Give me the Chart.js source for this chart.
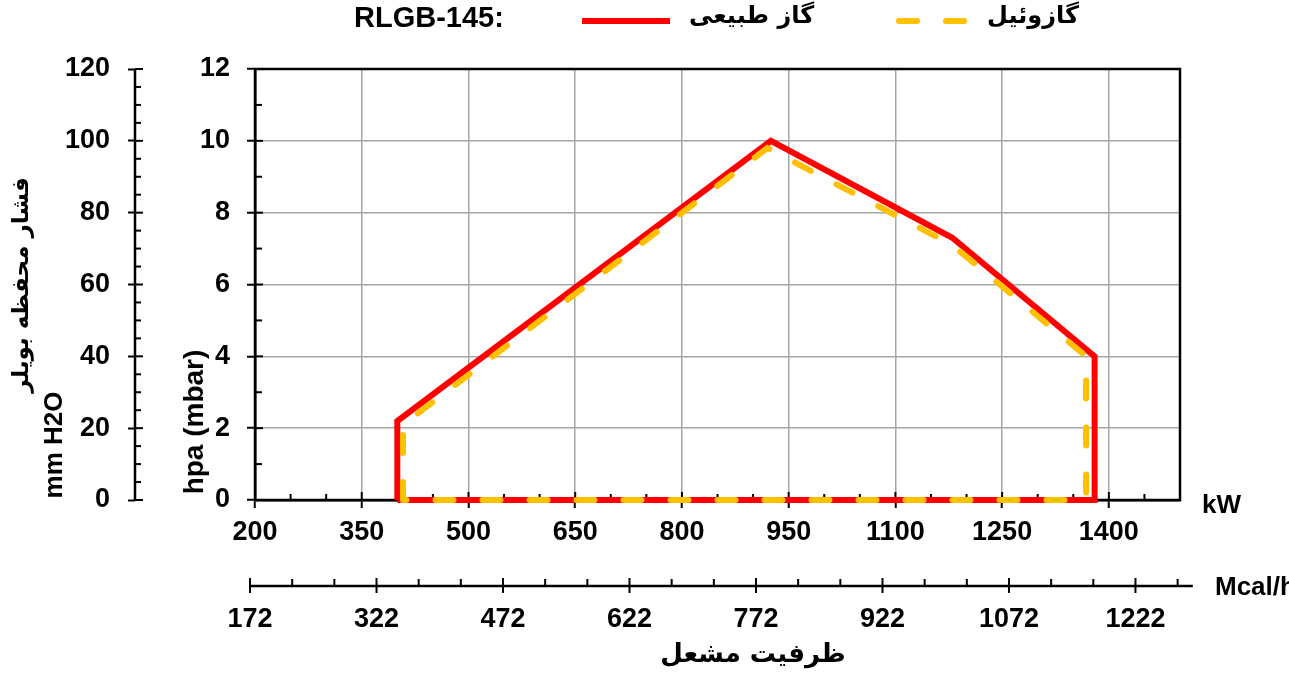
<!DOCTYPE html>
<html lang="fa">
<head>
  <meta charset="UTF-8" />
  <title>RLGB-145</title>
  <script src="https://cdn.jsdelivr.net/npm/chart.js"></script>
  <style>
    html, body { margin: 0; padding: 0; background: #fff; }
    #wrap { width: 1289px; height: 674px; }
  </style>
</head>
<body>
  <div id="wrap"><canvas id="chart" width="1289" height="674"></canvas></div>

  <script>
    // منحنی کارکرد مشعل (kW , hpa)
    const gasKW  = [400, 400, 925, 1180, 1380, 1380, 400];
    const gasHpa = [0, 2.2, 10, 7.3, 4, 0, 0];
    const oilKW  = [408, 408, 920, 1180, 1368, 1368, 408];
    const oilHpa = [0, 2.1, 9.8, 7.1, 4, 0, 0];

    // برچسب‌های محورها
    const kwTicks   = [200, 350, 500, 650, 800, 950, 1100, 1250, 1400];
    const mcalTicks = [172, 322, 472, 622, 772, 922, 1072, 1222];
    const hpaTicks  = [0, 2, 4, 6, 8, 10, 12];
    const mmTicks   = [0, 20, 40, 60, 80, 100, 120];

    const FA = '"DejaVu Sans", sans-serif';
    const EN = '"Liberation Sans", Arial, sans-serif';

    Chart.defaults.font.family = EN;
    Chart.defaults.font.size = 27;
    Chart.defaults.font.weight = 'bold';
    Chart.defaults.color = '#000';

    const toPoints = (xs, ys) => xs.map((x, i) => ({ x: x, y: ys[i] }));
    const setTicks = list => scale => { scale.ticks = list.map(v => ({ value: v })); };
    const plain = v => String(v);

    // کادر، تیک‌های فرعی و محور Mcal/h
    const axesExtra = {
      id: 'axesExtra',
      beforeDatasetsDraw(chart) {
        const { ctx, chartArea: a, scales } = chart;
        const line = (x1, y1, x2, y2) => {
          ctx.beginPath(); ctx.moveTo(x1, y1); ctx.lineTo(x2, y2); ctx.stroke();
        };
        ctx.save();
        ctx.strokeStyle = '#000';
        ctx.lineWidth = 2.5;
        ctx.strokeRect(a.left, a.top, a.right - a.left, a.bottom - a.top);

        ctx.lineWidth = 2;
        // kW
        for (let v = 250; v < 1500; v += 50) {
          const px = scales.x.getPixelForValue(v);
          line(px, a.bottom, px, a.bottom - (kwTicks.includes(v) ? 8 : 6));
        }
        // hpa
        for (let v = 1; v < 12; v++) {
          const py = scales.y.getPixelForValue(v);
          line(a.left, py, a.left + (hpaTicks.includes(v) ? 8 : 7), py);
        }
        // mm H2O
        const mm = scales.yMm;
        ctx.lineWidth = 2.5;
        line(mm.right, mm.getPixelForValue(0), mm.right, mm.getPixelForValue(120));
        ctx.lineWidth = 2;
        for (let v = 0; v <= 120; v += 5) {
          const py = mm.getPixelForValue(v);
          line(mm.right, py, mm.right + (mmTicks.includes(v) ? 8 : 6), py);
        }
        // Mcal/h
        const mc = scales.xMcal;
        ctx.lineWidth = 2.5;
        line(mc.getPixelForValue(172), mc.top, mc.getPixelForValue(1290), mc.top);
        ctx.lineWidth = 2;
        for (let v = 172; v < 1290; v += 50) {
          const px = mc.getPixelForValue(v);
          const major = mcalTicks.includes(v);
          line(px, mc.top + (major ? 7 : 0), px, mc.top - (major ? 8 : 7));
        }
        ctx.restore();
      },
      afterDraw(chart) {
        const { ctx, chartArea: a, data } = chart;
        ctx.save();
        ctx.fillStyle = '#000';
        ctx.textBaseline = 'middle';

        // عنوان محورها
        ctx.font = 'bold 26px ' + EN;
        ctx.textAlign = 'left';
        ctx.fillText('kW', a.right + 22, a.bottom + 6);
        ctx.fillText('Mcal/h', a.right + 35, a.bottom + 88);

        ctx.font = 'bold 26px ' + FA;
        ctx.textAlign = 'center';
        ctx.fillText('ظرفیت مشعل', 753, 655);

        const vText = (text, x, y, font) => {
          ctx.save();
          ctx.translate(x, y);
          ctx.rotate(-Math.PI / 2);
          ctx.font = font;
          ctx.textAlign = 'center';
          ctx.fillText(text, 0, 0);
          ctx.restore();
        };
        vText('hpa (mbar)', a.left - 60, a.bottom - 78, 'bold 28px ' + EN);
        vText('mm H2O', 55, a.bottom - 55, 'bold 26px ' + EN);
        vText('فشار محفظه بویلر', 22, 285, 'bold 23px ' + FA);

        // راهنما
        ctx.textAlign = 'left';
        ctx.font = 'bold 29px ' + EN;
        ctx.fillText('RLGB-145:', 354, 19);
        const items = [
          { ds: data.datasets[0], x1: 582, x2: 670, tx: 689 },
          { ds: data.datasets[1], x1: 899, x2: 967, tx: 987 }
        ];
        items.forEach(it => {
          ctx.save();
          ctx.strokeStyle = it.ds.borderColor;
          ctx.lineWidth = it.ds.borderWidth;
          ctx.lineCap = it.ds.borderCapStyle || 'butt';
          ctx.setLineDash(it.ds.borderDash || []);
          ctx.beginPath();
          ctx.moveTo(it.x1, 21);
          ctx.lineTo(it.x2, 21);
          ctx.stroke();
          ctx.restore();
          ctx.font = 'bold 24px ' + FA;
          ctx.fillText(it.ds.label, it.tx, 17);
        });
        ctx.restore();
      }
    };

    new Chart(document.getElementById('chart').getContext('2d'), {
      type: 'scatter',
      data: {
        datasets: [
          {
            label: 'گاز طبیعی',
            data: toPoints(gasKW, gasHpa),
            showLine: true,
            borderColor: '#FF0000',
            borderWidth: 6,
            borderJoinStyle: 'miter',
            pointRadius: 0,
            clip: false,
            order: 2,
            xAxisID: 'x',
            yAxisID: 'y'
          },
          {
            label: 'گازوئیل',
            data: toPoints(oilKW, oilHpa),
            showLine: true,
            borderColor: '#FFC000',
            borderWidth: 6,
            borderDash: [18, 29],
            borderCapStyle: 'round',
            pointRadius: 0,
            clip: false,
            order: 1,
            xAxisID: 'x',
            yAxisID: 'y'
          }
        ]
      },
      options: {
        responsive: false,
        animation: false,
        events: [],
        layout: { padding: { top: 69, right: 109, bottom: 0, left: 0 } },
        plugins: {
          legend: { display: false },
          tooltip: { enabled: false }
        },
        scales: {
          x: {
            type: 'linear',
            position: 'bottom',
            min: 200,
            max: 1500,
            weight: 0,
            afterBuildTicks: setTicks(kwTicks),
            afterFit: s => { s.height = 86; },
            ticks: { autoSkip: false, maxRotation: 0, padding: 8, callback: plain },
            grid: { color: '#A6A6A6', lineWidth: 1.5, tickColor: '#000', tickLength: 8, tickWidth: 2 },
            border: { color: '#000', width: 2.5 }
          },
          xMcal: {
            type: 'linear',
            position: 'bottom',
            min: 177.9,
            max: 1274.8,
            weight: 1,
            afterBuildTicks: setTicks(mcalTicks),
            afterFit: s => { s.height = 88; },
            ticks: { autoSkip: false, maxRotation: 0, padding: 9, callback: plain },
            grid: { display: false },
            border: { display: false }
          },
          y: {
            type: 'linear',
            position: 'left',
            min: 0,
            max: 12,
            weight: 0,
            afterBuildTicks: setTicks(hpaTicks),
            afterFit: s => { s.width = 120; },
            ticks: { padding: 17, callback: plain },
            grid: { color: '#A6A6A6', lineWidth: 1.5, tickColor: '#000', tickLength: 8, tickWidth: 2 },
            border: { color: '#000', width: 2.5 }
          },
          yMm: {
            type: 'linear',
            position: 'left',
            min: 0,
            max: 120,
            weight: 1,
            afterBuildTicks: setTicks(mmTicks),
            afterFit: s => { s.width = 135; },
            ticks: { padding: 18, callback: plain },
            grid: { drawOnChartArea: false, tickColor: '#000', tickLength: 7, tickWidth: 2 },
            border: { display: false }
          }
        }
      },
      plugins: [axesExtra]
    });
  </script>
</body>
</html>
